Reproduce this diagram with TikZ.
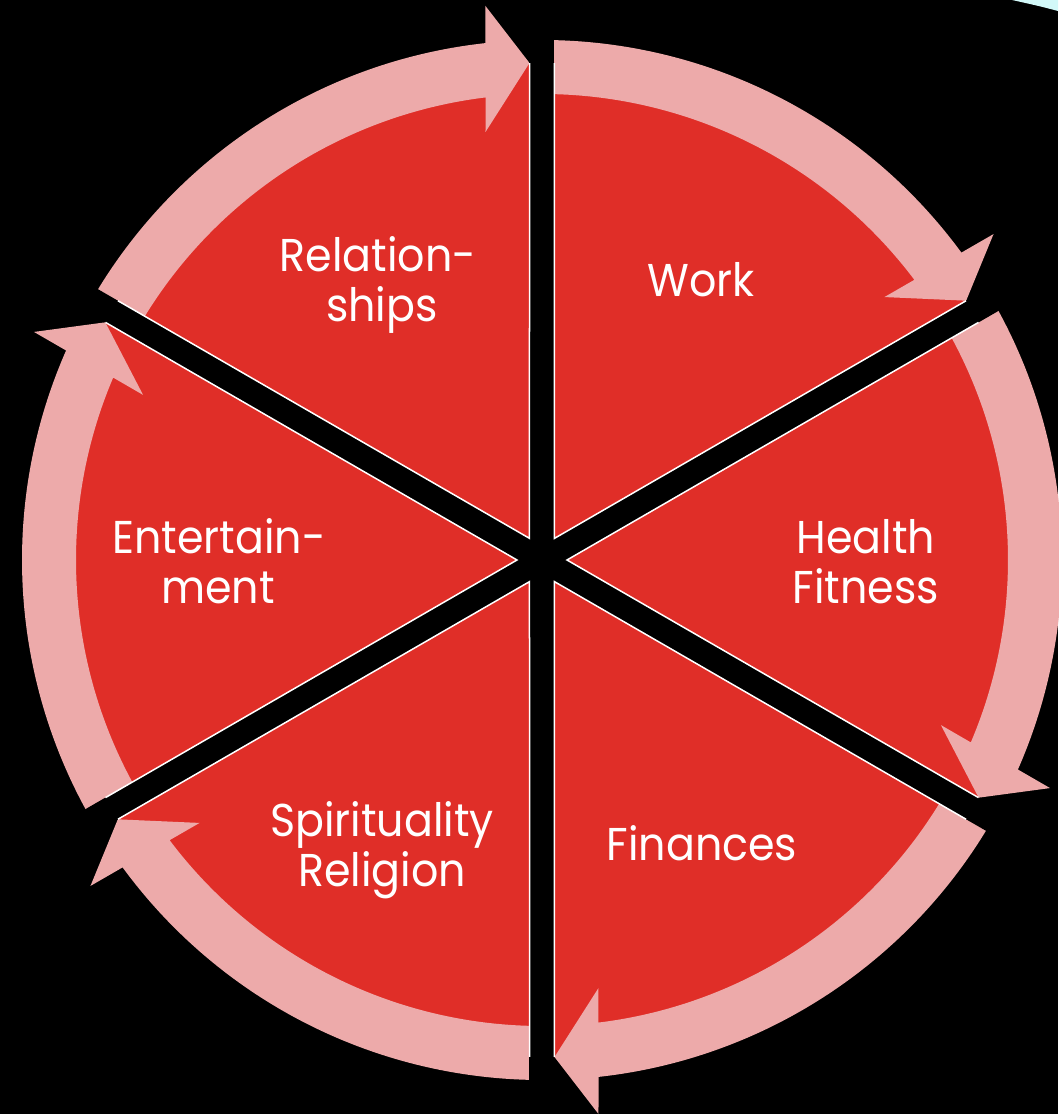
\documentclass[tikz,border=0pt]{standalone}
\usepackage{fontspec}
\setmainfont{Poppins}[FakeStretch=0.93]
\definecolor{segred}{RGB}{224,46,40}
\definecolor{arrowpink}{RGB}{237,170,170}
\definecolor{glint}{RGB}{210,248,248}
\begin{document}
\begin{tikzpicture}[x=1pt,y=1pt,
  lbl/.style={text=white, font=\fontsize{46}{50}\selectfont, anchor=base, inner sep=0pt},
  ring/.style={fill=arrowpink},
  gapband/.style={fill=black},
  rim/.style={draw=white, line width=1.5pt, line join=miter}]
\fill[black] (-542,-554) rectangle (516,560);
\useasboundingbox (-542,-554) rectangle (516,560);
% glint at top right corner
\fill[glint] (470,560) -- (516,560) -- (516,549) .. controls (497,554) .. (470,560) -- cycle;
% red disk
\fill[segred] (0,0) circle[radius=497];
% circular arrows
\foreach \g in {90,30,-30,-90,-150,150}{
  \begin{scope}[rotate=\g]
    \fill[ring] (60:520) arc[start angle=60,end angle=6.24,radius=520]
      -- (554,56.5) -- (497,12.5) -- (428,56.5) -- (6.96:466)
      arc[start angle=6.96,end angle=60,radius=466] -- cycle;
  \end{scope}
}
% black gaps
\foreach \g in {90,30,-30}{
  \begin{scope}[rotate=\g]
    \fill[gapband] (-575,-12.5) -- (575,-12.5) -- (575,12.5) -- (-575,12.5) -- cycle;
  \end{scope}
}
% white sector edges
\foreach \a in {90,30,-30,-90,-150,150}{
  \begin{scope}[rotate=\a]
    \draw[rim] (-1.441:497) -- (-30:25) -- (-58.559:497);
  \end{scope}
}
% labels
\node[lbl] (rel1) at (-164,288) {Relation-};
\node[lbl] (rel2) at (-160,238) {ships};
\node[lbl] (work) at (159,263) {Work};
\node[lbl] (hea1) at (324,7) {Health};
\node[lbl] (hea2) at (324,-43) {Fitness};
\node[lbl] (fin) at (160,-300) {Finances};
\node[lbl] (spi1) at (-160,-276) {Spirituality};
\node[lbl] (spi2) at (-160,-326) {Religion};
\node[lbl] (ent1) at (-323,7) {Entertain-};
\node[lbl] (ent2) at (-324,-43) {ment};
\end{tikzpicture}
\end{document}
